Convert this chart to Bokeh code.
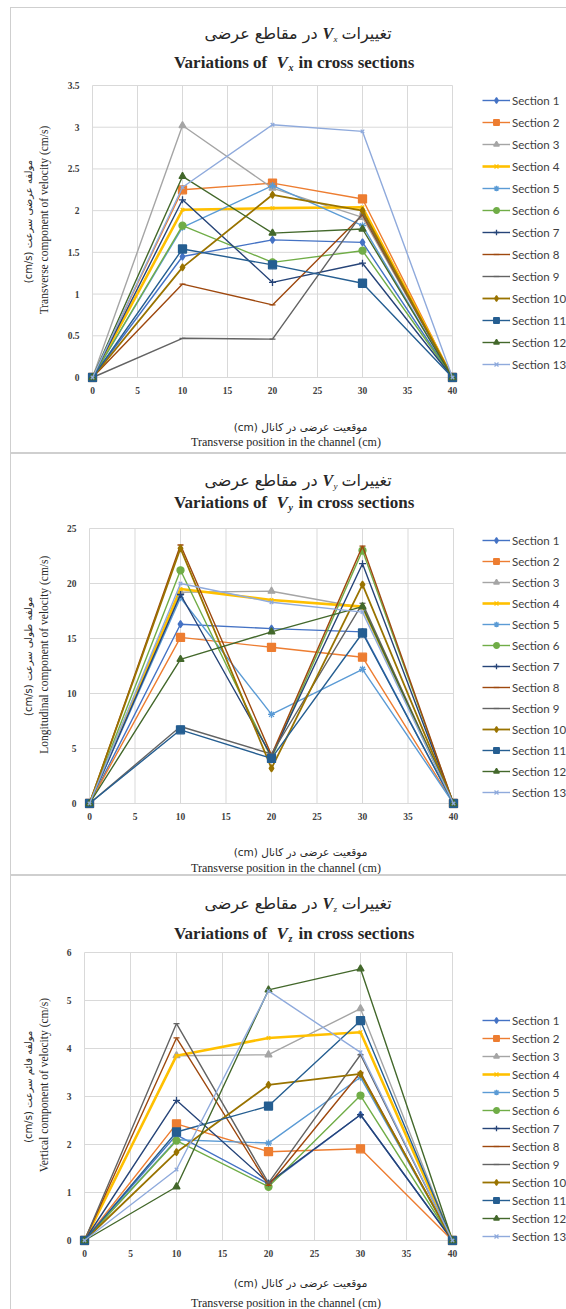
from math import pi

from bokeh.embed import file_html
from bokeh.layouts import column, row
from bokeh.models import InlineStyleSheet, Label, Legend, LegendItem, Range1d
from bokeh.plotting import figure
from bokeh.resources import INLINE

# ---------------------------------------------------------------- data
positions_cm = [0, 10, 20, 30, 40]
section_names = [f"Section {i}" for i in range(1, 14)]

x_ticks = [0, 5, 10, 15, 20, 25, 30, 35, 40]
vx_ticks = [0, 0.5, 1, 1.5, 2, 2.5, 3, 3.5]
vy_ticks = [0, 5, 10, 15, 20, 25]
vz_ticks = [0, 1, 2, 3, 4, 5, 6]

# transverse component Vx (cm/s), one row per section
vx_sections = [
    [0, 1.45, 1.65, 1.62, 0],
    [0, 2.25, 2.33, 2.14, 0],
    [0, 3.02, 2.27, 1.92, 0],
    [0, 2.01, 2.03, 2.04, 0],
    [0, 1.80, 2.30, 1.82, 0],
    [0, 1.82, 1.38, 1.52, 0],
    [0, 2.13, 1.14, 1.37, 0],
    [0, 1.12, 0.87, 1.95, 0],
    [0, 0.47, 0.46, 1.97, 0],
    [0, 1.32, 2.19, 2.00, 0],
    [0, 1.54, 1.35, 1.13, 0],
    [0, 2.41, 1.73, 1.78, 0],
    [0, 2.28, 3.03, 2.95, 0],
]

# longitudinal component Vy (cm/s)
vy_sections = [
    [0, 16.3, 15.9, 15.6, 0],
    [0, 15.1, 14.2, 13.3, 0],
    [0, 19.2, 19.3, 17.8, 0],
    [0, 19.5, 18.5, 17.9, 0],
    [0, 18.7, 8.1, 12.2, 0],
    [0, 21.2, 4.1, 23.0, 0],
    [0, 19.0, 4.3, 21.8, 0],
    [0, 23.5, 4.4, 23.4, 0],
    [0, 7.0, 4.5, 18.2, 0],
    [0, 23.2, 3.2, 19.9, 0],
    [0, 6.7, 4.1, 15.5, 0],
    [0, 13.1, 15.6, 17.9, 0],
    [0, 20.0, 18.3, 17.4, 0],
]

# vertical component Vz (cm/s)
vz_sections = [
    [0, 2.20, 1.18, 2.62, 0],
    [0, 2.43, 1.85, 1.91, 0],
    [0, 3.85, 3.87, 4.83, 0],
    [0, 3.85, 4.22, 4.34, 0],
    [0, 2.10, 2.03, 3.40, 0],
    [0, 2.08, 1.12, 3.02, 0],
    [0, 2.92, 1.20, 2.62, 0],
    [0, 4.22, 1.15, 3.50, 0],
    [0, 4.52, 1.20, 3.87, 0],
    [0, 1.84, 3.24, 3.47, 0],
    [0, 2.26, 2.80, 4.58, 0],
    [0, 1.12, 5.22, 5.66, 0],
    [0, 1.48, 5.20, 3.92, 0],
]

# ---------------------------------------------------------------- style
series_colors = ["#4472C4", "#ED7D31", "#A5A5A5", "#FFC000", "#5B9BD5", "#70AD47",
                 "#264478", "#9E480E", "#636363", "#997300", "#255E91", "#43682B",
                 "#8FAADC"]
series_markers = ["diamond", "square", "triangle", "x", "asterisk", "circle", "cross",
                  "dash", "dash", "diamond", "square", "triangle", "x"]
marker_sizes = [7, 8, 7, 5, 7, 7, 7, 6, 6, 7, 8, 7, 5]
line_widths = [1.4, 1.4, 1.4, 2.6, 1.4, 1.4, 1.4, 1.4, 1.4, 1.8, 1.4, 1.4, 1.4]

SERIF = "Liberation Serif"
ARABIC = "DejaVu Sans"
LEGEND_FONT = "Lato"
GRID = "#D9D9D9"
TEXT = "#262626"

W = 566
EXT = 5       # spare pixels around the data area so edge markers stay whole
LEFT_W = 56   # strip holding the rotated y titles
LEGEND_X = 482


def text_strip(width, height):
    """An axis-free figure whose data coordinates are its own pixels."""
    s = figure(width=width, height=height, x_range=Range1d(0, width),
               y_range=Range1d(height, 0), x_axis_type=None, y_axis_type=None,
               min_border=0, min_border_left=0, min_border_right=0,
               min_border_top=0, min_border_bottom=0, title=None,
               output_backend="svg", toolbar_location=None)
    s.grid.visible = False
    s.outline_line_color = None
    s.background_fill_color = "white"
    s.border_fill_color = "white"
    return s


def put(fig, x, y, text, size, font=SERIF, style="normal", align="center",
        angle=0.0, color=TEXT):
    fig.add_layout(Label(x=x, y=y, text=text, text_font=font, text_font_size=size,
                         text_font_style=style, text_align=align,
                         text_baseline="middle", angle=angle, text_color=color))


def build_panel(values, y_ticks, ymax, geom, sub, fa_y, en_y, txt, leg, border):
    H, L, R, T, B = geom
    main_h = B + 25
    ux = (R - L) / 40.0
    uy = (B - T) / ymax
    mw = W - LEFT_W

    # the frame runs up to the top edge and out to the right edge, so the
    # titles and the legend sit inside it; the data area is 0..40 x 0..ymax
    p = figure(width=mw, height=main_h,
               x_range=Range1d(-EXT / ux, (W - L) / ux),
               y_range=Range1d(-EXT / uy, B / uy),
               min_border_left=L - EXT - LEFT_W, min_border_right=0,
               min_border_top=0, min_border_bottom=main_h - B - EXT,
               title=None, output_backend="svg", toolbar_location=None)
    p.outline_line_color = None
    p.background_fill_color = "white"
    p.border_fill_color = "white"
    p.grid.visible = False

    for axis, ticks in ((p.xaxis, x_ticks), (p.yaxis, y_ticks)):
        axis.ticker = ticks
        axis.major_label_overrides = {t: f"{t:g}" for t in ticks}
        axis.axis_line_color = None
        axis.major_tick_line_color = None
        axis.minor_tick_line_color = None
        axis.major_tick_out = 0
        axis.major_tick_in = 0
        axis.major_label_text_font = SERIF
        axis.major_label_text_font_style = "bold"
        axis.major_label_text_font_size = "9.5px"
        axis.major_label_text_color = "#404040"
    p.xaxis.major_label_standoff = 4
    p.yaxis.major_label_standoff = 8

    # gridlines over the data area only
    p.segment(x0=x_ticks, y0=[0] * len(x_ticks), x1=x_ticks, y1=[ymax] * len(x_ticks),
              line_color=GRID, line_width=1)
    p.segment(x0=[0] * len(y_ticks), y0=y_ticks, x1=[40] * len(y_ticks), y1=y_ticks,
              line_color=GRID, line_width=1)

    items = []
    for name, vals, c, m, s, lw in zip(section_names, values, series_colors,
                                       series_markers, marker_sizes, line_widths):
        r_line = p.line(positions_cm, vals, line_color=c, line_width=lw)
        r_mark = p.scatter(positions_cm, vals, marker=m, size=s, fill_color=c,
                           line_color=c, line_width=1.3)
        items.append(LegendItem(label=name, renderers=[r_line, r_mark]))

    first_row, pitch = leg
    row_h = 14
    spacing = pitch - row_h
    legend_h = 13 * row_h + 12 * spacing
    top = first_row - row_h / 2
    legend = Legend(items=items,
                    location=(LEGEND_X - (L - EXT), (B + EXT) - (top + legend_h)),
                    orientation="vertical", padding=0, margin=0, spacing=spacing,
                    glyph_width=28, glyph_height=row_h, label_height=row_h,
                    label_standoff=2, label_text_font=LEGEND_FONT,
                    label_text_font_size="11.5px", label_text_color="#404040",
                    label_text_baseline="middle",
                    border_line_color=None, background_fill_alpha=0)
    p.add_layout(legend)

    def label(px, py, text, size, **kw):
        put(p, (px - L) / ux, (B - py) / uy, text, size, **kw)

    fa_t, en_t, fa_x, en_x = txt
    # Persian title: words right to left around the symbol V with its subscript
    v = 322
    label(v - 5, fa_t, "در مقاطع عرضی", "16px", font=ARABIC, align="right")
    label(v, fa_t, "V", "16px", style="bold italic", align="left")
    label(v + 11, fa_t + 5, sub, "9px", style="italic", align="left")
    label(v + 19, fa_t, "تغییرات", "16px", font=ARABIC, align="left")
    # English title
    v = 276
    label(v - 5, en_t, "Variations  of", "17px", style="bold", align="right")
    label(v, en_t, "V", "17px", style="bold italic", align="left")
    label(v + 12, en_t + 5, sub, "10px", style="bold italic", align="left")
    label(v + 22, en_t, "in cross sections", "17px", style="bold", align="left")

    # rotated y titles
    left = text_strip(LEFT_W, main_h)
    yc = (T + B) / 2
    put(left, 28, yc, "(cm/s)  " + fa_y, "10px", font=ARABIC, angle=pi / 2)
    put(left, 43, yc, en_y, "11.5px", angle=pi / 2)

    # x titles
    bottom = text_strip(W, H - main_h)
    put(bottom, 300, fa_x - main_h, "(cm) موقعیت عرضی در کانال", "10.5px", font=ARABIC)
    put(bottom, 287, en_x - main_h, "Transverse position in the channel  (cm)", "12px")

    bl, bt, bb = border
    css = (":host { position: relative; } "
           ":host::after { content: ''; position: absolute; "
           f"left: {bl}px; top: {bt}px; right: 0px; bottom: {bb}px; "
           "border: 1px solid #CFCFCF; border-right: none; pointer-events: none; }")
    panel = column(row(left, p, spacing=0), bottom, spacing=0)
    panel.stylesheets = [InlineStyleSheet(css=css)]
    return panel


p1 = build_panel(vx_sections, vx_ticks, 3.5, (453, 92, 452, 85, 377), "x",
                 "مولفه عرضی سرعت", "Transverse component of velocity (cm/s)",
                 (33, 62, 426, 441), (100, 22), (10, 7, 0))
p2 = build_panel(vy_sections, vy_ticks, 25, (422, 89, 453, 75, 350), "y",
                 "مولفه طولی سرعت", "Longitudinal component of velocity (cm/s)",
                 (27, 49, 398, 414), (87, 21), (10, 0, 0))
p3 = build_panel(vz_sections, vz_ticks, 6, (434, 84, 452, 77, 365), "z",
                 "مولفه قائم سرعت", "Vertical component of velocity (cm/s)",
                 (28, 58, 407, 427), (145, 18), (10, 0, -2))

page = column(p1, p2, p3, spacing=0)
open("out.html", "w").write(file_html(page, INLINE))
